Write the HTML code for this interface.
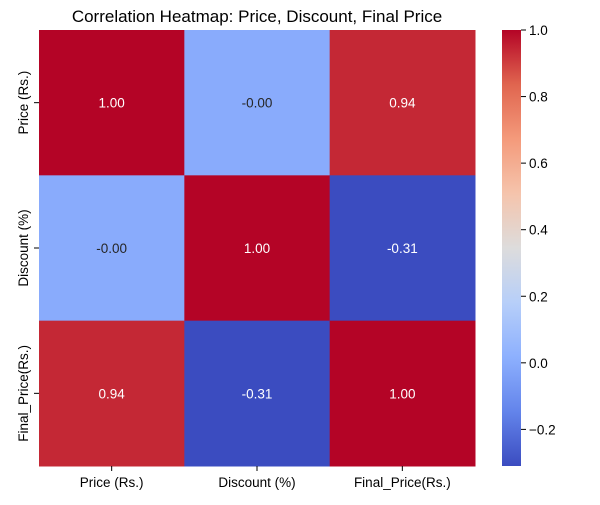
<!DOCTYPE html>
<html><head><meta charset="utf-8"><style>
body{margin:0;background:#fff;font-family:"Liberation Sans","DejaVu Sans",sans-serif}
</style></head><body>
<svg id="chart" width="600" height="500" xmlns="http://www.w3.org/2000/svg">
<defs><linearGradient id="cw" x1="0" y1="1" x2="0" y2="0">
<stop offset="0" stop-color="#3b4cc0"/><stop offset="0.125" stop-color="#6384eb"/><stop offset="0.25" stop-color="#8db0fe"/><stop offset="0.375" stop-color="#b7cff9"/><stop offset="0.5" stop-color="#dddcdc"/><stop offset="0.625" stop-color="#f5c4ac"/><stop offset="0.75" stop-color="#f49a7b"/><stop offset="0.875" stop-color="#e0654f"/><stop offset="1" stop-color="#b40426"/>
</linearGradient></defs>
<text x="257" y="22" text-anchor="middle" font-size="17">Correlation Heatmap: Price, Discount, Final Price</text>
<g id="cells"></g>
<g id="cbar"></g>
</svg>
<script>
const labels = ["Price (Rs.)", "Discount (%)", "Final_Price(Rs.)"];
const row0 = [1.00, -0.00, 0.94];
const row1 = [-0.00, 1.00, -0.31];
const row2 = [0.94, -0.31, 1.00];
const cbTicks = [1.0, 0.8, 0.6, 0.4, 0.2, 0.0, -0.2];
const vmin = -0.31, vmax = 1.0;
const matrix = [row0, row1, row2];
const X0 = 39, Y0 = 30, W = 436, H = 436;
const cw = W / labels.length, ch = H / labels.length;
const stops = [[0,"#3b4cc0"],[0.125,"#6384eb"],[0.25,"#8db0fe"],[0.375,"#b7cff9"],[0.5,"#dddcdc"],[0.625,"#f5c4ac"],[0.75,"#f49a7b"],[0.875,"#e0654f"],[1,"#b40426"]];
function hex(h){return [1,3,5].map(i=>parseInt(h.substr(i,2),16));}
function color(v){
  let t=(v-vmin)/(vmax-vmin); t=Math.max(0,Math.min(1,t));
  for(let i=1;i<stops.length;i++){ if(t<=stops[i][0]){ const a=hex(stops[i-1][1]),b=hex(stops[i][1]); const f=(t-stops[i-1][0])/(stops[i][0]-stops[i-1][0]); const c=a.map((x,k)=>Math.round(x+(b[k]-x)*f)); return `rgb(${c})`; } }
  return stops[stops.length-1][1];
}
const NS="http://www.w3.org/2000/svg";
function mk(tag,attrs,parent){const e=document.createElementNS(NS,tag);for(const k in attrs)e.setAttribute(k,attrs[k]);parent.appendChild(e);return e;}
const g=document.getElementById("cells");
matrix.forEach((row,r)=>row.forEach((v,c)=>{
  const rect=mk("rect",{x:X0+c*cw,y:Y0+r*ch,width:cw+0.5,height:ch+0.5,fill:color(v)},g);
  
  
  const t=(v-vmin)/(vmax-vmin);
  const txt=mk("text",{x:X0+(c+0.5)*cw,y:Y0+(r+0.5)*ch+5,"text-anchor":"middle","font-size":"13.5",fill:(t>0.2&&t<0.8)?"#262626":"#fff"},g);
  txt.textContent=(Math.abs(v)<0.005?"-0.00":v.toFixed(2));
  
  
}));
labels.forEach((l,i)=>{
  const cx=X0+(i+0.5)*cw;
  mk("line",{x1:cx,y1:Y0+H,x2:cx,y2:Y0+H+5,stroke:"#000"},g);
  const xt=mk("text",{x:cx,y:Y0+H+21,"text-anchor":"middle","font-size":"13.5"},g);
  xt.textContent=l;
  
  
  const cy=Y0+(i+0.5)*ch;
  mk("line",{x1:X0-5,y1:cy,x2:X0,y2:cy,stroke:"#000"},g);
  const yt=mk("text",{x:0,y:0,"text-anchor":"middle","font-size":"13.5",transform:`translate(${X0-11},${cy}) rotate(-90)`},g);
  yt.textContent=l;
  
  
});
const cb=document.getElementById("cbar");
const CBX=502, CBW=19;
const bar=mk("rect",{x:CBX,y:Y0,width:CBW,height:H,fill:"url(#cw)"},cb);


function cy(v){return Y0+H*(vmax-v)/(vmax-vmin);}
cbTicks.forEach(v=>{
  const y=cy(v);
  mk("line",{x1:CBX+CBW,y1:y,x2:CBX+CBW+5,y2:y,stroke:"#000"},cb);
  const t=mk("text",{x:CBX+CBW+8,y:y+5,"font-size":"13.5"},cb);
  t.textContent=v<0?"\u2212"+Math.abs(v).toFixed(1):v.toFixed(1);
  
  
});
</script>
</body></html>
